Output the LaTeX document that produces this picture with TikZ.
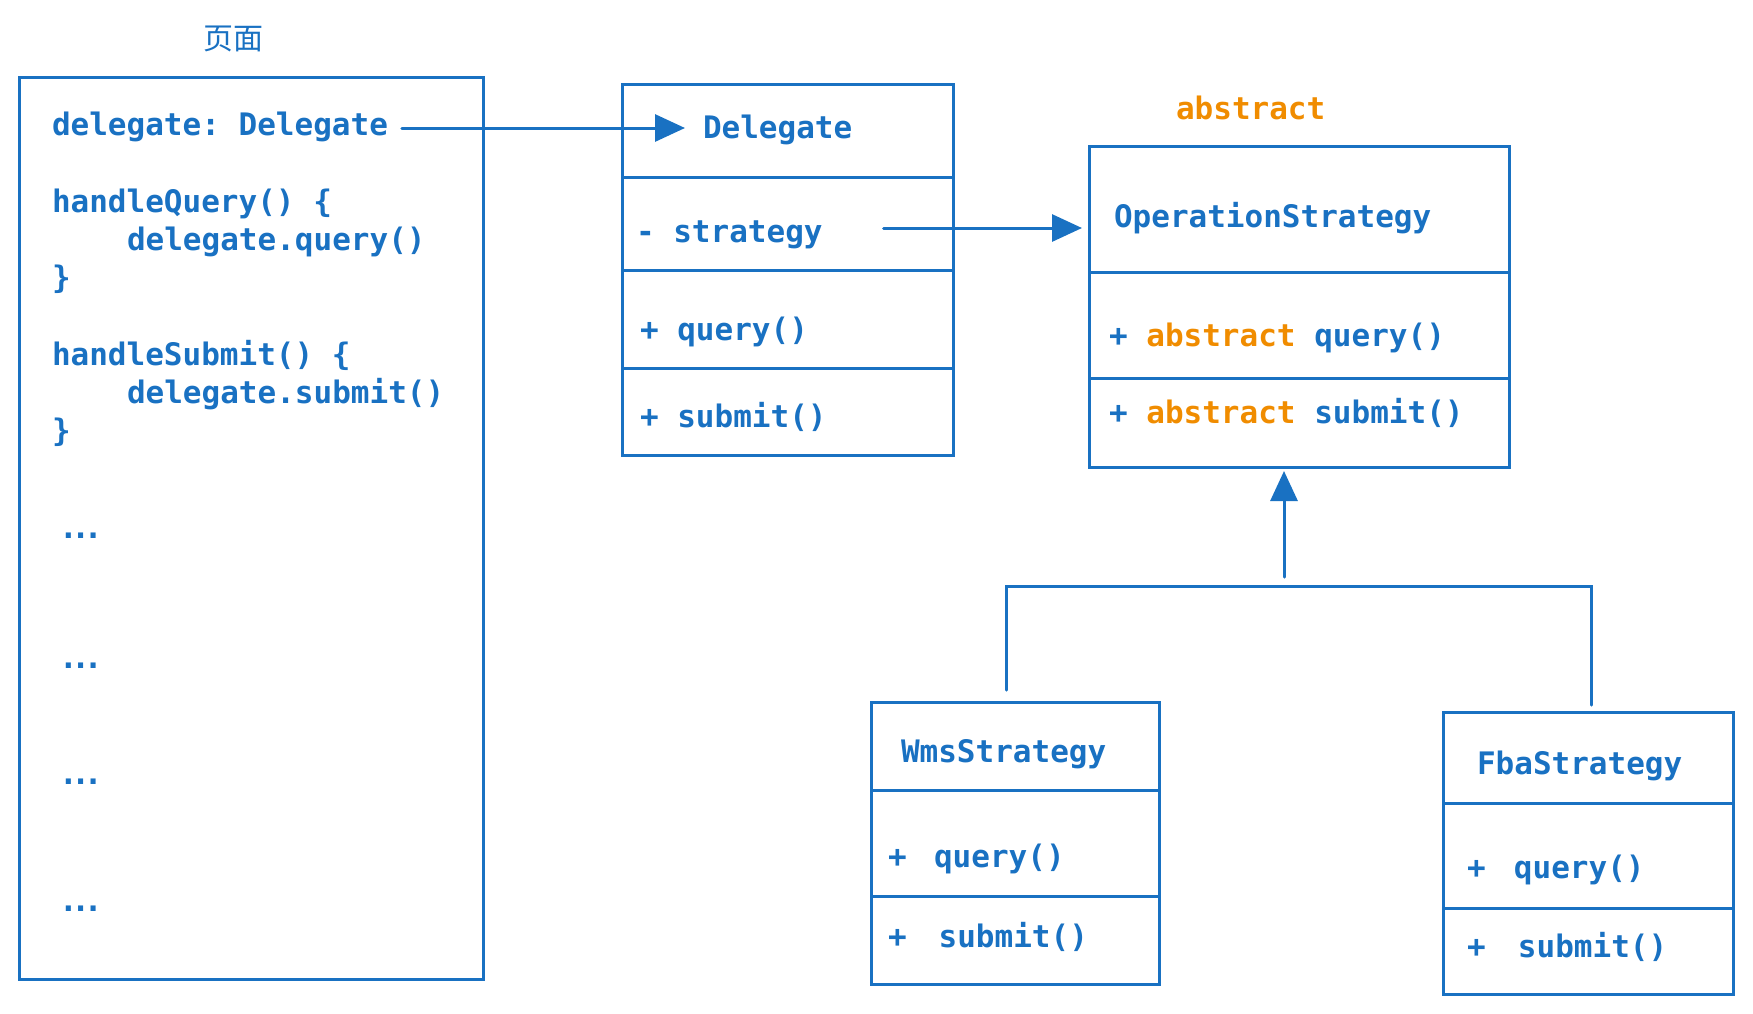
\documentclass[tikz,border=0pt]{standalone}
\usepackage{fontspec}
\usetikzlibrary{arrows.meta}
\newfontfamily\codefont{DejaVu Sans Mono}
\newfontfamily\cjkfont{Noto Sans CJK SC}
\definecolor{umlblue}{HTML}{1971C2}
\definecolor{umlorange}{HTML}{F08C00}
\newcommand\cfont{\codefont\bfseries\fontsize{31}{38}\selectfont\frenchspacing}
\tikzset{
  umlbox/.style={draw=umlblue, line width=3pt, rectangle, inner sep=0pt, outer sep=0pt, anchor=north west},
  code/.style={font=\cfont, text=umlblue, inner sep=0pt, outer sep=0pt, anchor=base west},
  conn/.style={draw=umlblue, line width=3pt, line cap=round},
  arr/.style={conn, -{Triangle[length=30pt,width=27pt]}},
  divider/.style={draw=umlblue, line width=3pt},
}
\begin{document}
\begin{tikzpicture}[x=1pt,y=-1pt]
\useasboundingbox (0,0) rectangle (1753,1013);

% page box
\node[font=\cjkfont\fontsize{30}{36}\selectfont, text=umlblue, inner sep=0pt] (ptitle) at (233,39) {页面};
\node[umlbox, minimum width=464pt, minimum height=902pt] (page) at (19,77) {};
\node[code] (dline) at (52,135) {delegate: Delegate};
\node[code] (hq) at (52,212) {handleQuery() \{};
\node[code] (dq) at (127,250) {delegate.query()};
\node[code] (c1) at (52,288) {\}};
\node[code] (hs) at (52,365) {handleSubmit() \{};
\node[code] (dsub) at (127,403) {delegate.submit()};
\node[code] (c2) at (52,441) {\}};
\node[code] (e1) at (59,538) {.\kern-6.2pt.\kern-6.2pt.};
\node[code] (e2) at (59,668) {.\kern-6.2pt.\kern-6.2pt.};
\node[code] (e3) at (59,784) {.\kern-6.2pt.\kern-6.2pt.};
\node[code] (e4) at (59,911) {.\kern-6.2pt.\kern-6.2pt.};

% Delegate box
\node[umlbox, minimum width=331pt, minimum height=371pt] (deleg) at (622,84) {};
\draw[divider] (deleg.west |- 0,177) -- (deleg.east |- 0,177);
\draw[divider] (deleg.west |- 0,270) -- (deleg.east |- 0,270);
\draw[divider] (deleg.west |- 0,368) -- (deleg.east |- 0,368);
\node[code] (dtitle) at (703,138) {Delegate};
\node[code] (strat) at (636,242) {- strategy};
\node[code] (delq) at (640,340) {+ query()};
\node[code] (dels) at (640,427) {+ submit()};

% OperationStrategy box
\node[code, text=umlorange] (abs) at (1176,119) {abstract};
\node[umlbox, minimum width=420pt, minimum height=321pt] (op) at (1089,146) {};
\draw[divider] (op.west |- 0,272) -- (op.east |- 0,272);
\draw[divider] (op.west |- 0,378) -- (op.east |- 0,378);
\node[code] (optitle) at (1114,227) {OperationStrategy};
\node[code] (opq) at (1109,346) {+ \textcolor{umlorange}{abstract} query()};
\node[code] (ops) at (1109,423) {+ \textcolor{umlorange}{abstract} submit()};

% WmsStrategy box
\node[umlbox, minimum width=288pt, minimum height=282pt] (wms) at (871,702) {};
\draw[divider] (wms.west |- 0,790) -- (wms.east |- 0,790);
\draw[divider] (wms.west |- 0,896) -- (wms.east |- 0,896);
\node[code] (wmstitle) at (901,762) {WmsStrategy};
\node[code] (wmsq) at (888,867) {+\hspace{27.4pt}query()};
\node[code] (wmss) at (888,947) {+\hspace{32pt}submit()};

% FbaStrategy box
\node[umlbox, minimum width=290pt, minimum height=282pt] (fba) at (1443,712) {};
\draw[divider] (fba.west |- 0,803) -- (fba.east |- 0,803);
\draw[divider] (fba.west |- 0,908) -- (fba.east |- 0,908);
\node[code] (fbatitle) at (1477,774) {FbaStrategy};
\node[code] (fbaq) at (1467,878) {+\hspace{28.3pt}query()};
\node[code] (fbas) at (1467,957) {+\hspace{32.3pt}submit()};

% connectors
\coordinate (d0) at ([xshift=14pt,yshift=7pt]dline.base east);
\coordinate (d1) at ([xshift=-18pt]dtitle.base west);
\draw[arr] (d0) -- (d1 |- d0);

\coordinate (s0) at ([xshift=61pt,yshift=14pt]strat.base east);
\coordinate (s1) at ([xshift=-7pt]op.west);
\draw[arr] (s0) -- (s1 |- s0);

\coordinate (junction) at (1284,586);
\coordinate (i0) at ([yshift=9pt]junction);
\coordinate (i1) at ([yshift=-4pt]op.south);
\draw[arr] (i0) -- (i1 -| junction);

\coordinate (w0) at ([xshift=-9pt,yshift=12pt]wms.north);
\coordinate (f0) at ([xshift=3pt,yshift=7pt]fba.north);
\draw[conn] (w0) -- (w0 |- junction) -- (f0 |- junction) -- (f0);
\end{tikzpicture}
\end{document}
